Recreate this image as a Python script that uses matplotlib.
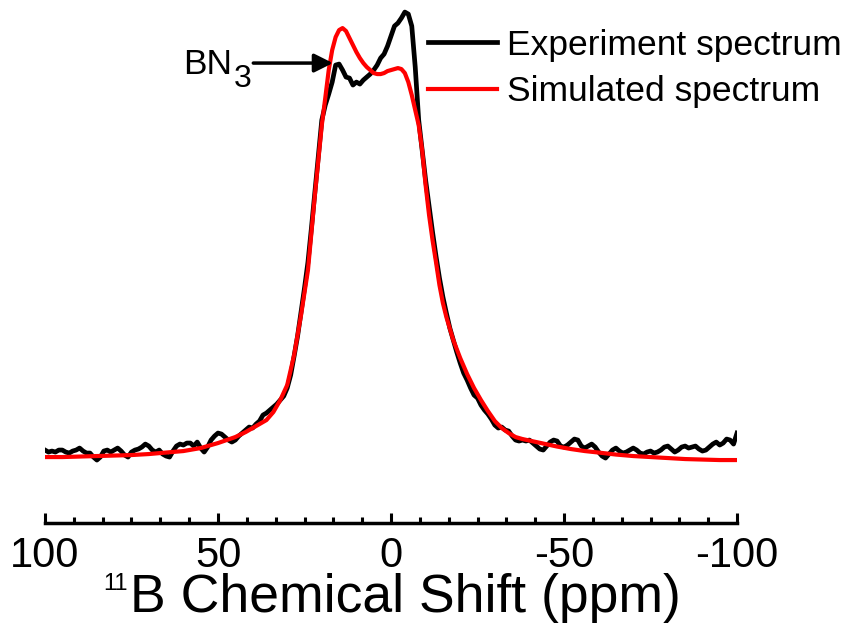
import numpy as np
import matplotlib
matplotlib.use("Agg")
import matplotlib.pyplot as plt
from matplotlib.ticker import AutoMinorLocator, FixedLocator

plt.rcParams['font.family'] = ['Liberation Sans', 'DejaVu Sans']
plt.rcParams['axes.unicode_minus'] = False

# 11B MAS NMR, experiment: 1 ppm steps from 100 down to -100 (a.u.)
exp_ppm = np.arange(100, -101, -1)
exp_int = [10, 8, 9, 8, 10, 10, 8, 7, 9, 10,
           12, 9, 7, 7, 3, 0, 3, 9, 10, 8,
           10, 12, 9, 5, 3, 8, 10, 11, 13, 16,
           14, 10, 8, 10, 6, 4, 3, 9, 14, 16,
           15, 17, 17, 14, 18, 12, 8, 13, 20, 24,
           27, 26, 23, 20, 18, 20, 24, 27, 30, 33,
           32, 36, 39, 45, 47, 50, 53, 56, 60, 64,
           72, 85, 104, 124, 148, 172, 198, 232, 268, 305,
           340, 355, 366, 378, 395, 396, 390, 383, 382, 375,
           378, 376, 380, 383, 386, 390, 395, 402, 406, 414,
           424, 434, 437, 442, 448, 446, 434, 393, 340, 310,
           280, 254, 228, 204, 182, 163, 147, 132, 120, 108,
           97, 87, 80, 72, 65, 62, 55, 50, 46, 41,
           35, 32, 33, 30, 29, 24, 20, 19, 20, 19,
           20, 17, 14, 11, 10, 14, 18, 20, 19, 14,
           13, 15, 18, 21, 20, 14, 12, 14, 16, 13,
           8, 4, 2, 6, 10, 12, 9, 7, 8, 10,
           12, 10, 7, 6, 8, 9, 7, 8, 10, 13,
           14, 11, 8, 10, 13, 14, 12, 13, 14, 11,
           9, 10, 13, 16, 18, 15, 17, 21, 20, 16,
           27]

# simulated spectrum
sim_ppm = [100, 95, 90, 85, 80, 75, 70, 65, 60, 55, 50, 45, 42, 40, 38, 36, 34, 32, 30, 28,
           26, 24, 22, 20, 19, 18, 17, 16, 15, 14, 13, 12, 11, 10, 9, 8, 7, 6, 5, 4,
           3, 2, 1, 0, -1, -2, -3, -4, -5, -6, -7, -8, -9, -10, -11, -12, -13, -14, -15, -16,
           -18, -20, -22, -24, -26, -28, -30, -32, -34, -36, -38, -40, -44, -48, -52, -56, -60, -65, -70, -75,
           -80, -85, -90, -95, -100]
sim_int = [3, 3, 3.5, 4, 4.5, 5, 6, 7.5, 9, 12, 17, 23, 28, 32, 36, 40, 48, 60, 75, 105,
           145, 190, 265, 335, 362, 390, 410, 423, 430, 432, 429, 422, 415, 408, 402, 397, 393, 390, 387, 386,
           386, 387, 389, 390, 391, 392, 391, 387, 378, 365, 350, 335, 310, 275, 245, 220, 198, 175, 157, 143,
           120, 102, 86, 72, 60, 49, 39, 32, 27, 23, 21, 19.5, 16.5, 13.5, 11, 9, 7.5, 5.5, 4, 3,
           2, 1, 0.5, 0, 0]

fig = plt.figure(figsize=(8.57, 6.34), dpi=100)
ax = fig.add_axes([0.0525, 0.175, 0.8075, 0.817])

ax.plot(exp_ppm, exp_int, color='black', lw=3.4, solid_joinstyle='round', label='Experiment spectrum')
ax.plot(sim_ppm, sim_int, color='#ff0000', lw=3.0, label='Simulated spectrum')

ax.set_xlim(100, -100)
ax.set_ylim(-63, 455)

for s in ['left', 'right', 'top']:
    ax.spines[s].set_visible(False)
ax.spines['bottom'].set_linewidth(2.5)
ax.set_yticks([])
ax.xaxis.set_major_locator(FixedLocator([100, 50, 0, -50, -100]))
ax.xaxis.set_minor_locator(AutoMinorLocator(6))
ax.tick_params(axis='x', which='major', direction='in', length=7.5, width=2.2, labelsize=30, pad=9)
ax.tick_params(axis='x', which='minor', direction='in', length=4.5, width=2.2)

# x label with a small raised "11"
fig.text(0.4726, 0.034, 'B Chemical Shift (ppm)', fontsize=38.5, ha='center', va='baseline')
fig.text(0.1485, 0.097, '11', fontsize=17, ha='right', va='top')

# BN3 label and arrow
ax.text(45.9, 386, 'BN', fontsize=25.5, ha='right', va='baseline')
ax.text(45.4, 373, '3', fontsize=23, ha='left', va='baseline')
ax.annotate('', xy=(16.8, 397), xytext=(39.8, 397),
            arrowprops=dict(arrowstyle='-|>', lw=2.5, color='black', mutation_scale=28,
                            shrinkA=0, shrinkB=0))

ax.legend(loc='upper left', bbox_to_anchor=(0.499, 0.955), bbox_transform=fig.transFigure,
          frameon=False, fontsize=25.5, handlelength=1.95, handletextpad=0.3, labelspacing=0.38,
          borderaxespad=0, borderpad=0)

fig.savefig('out.png', dpi=100)
